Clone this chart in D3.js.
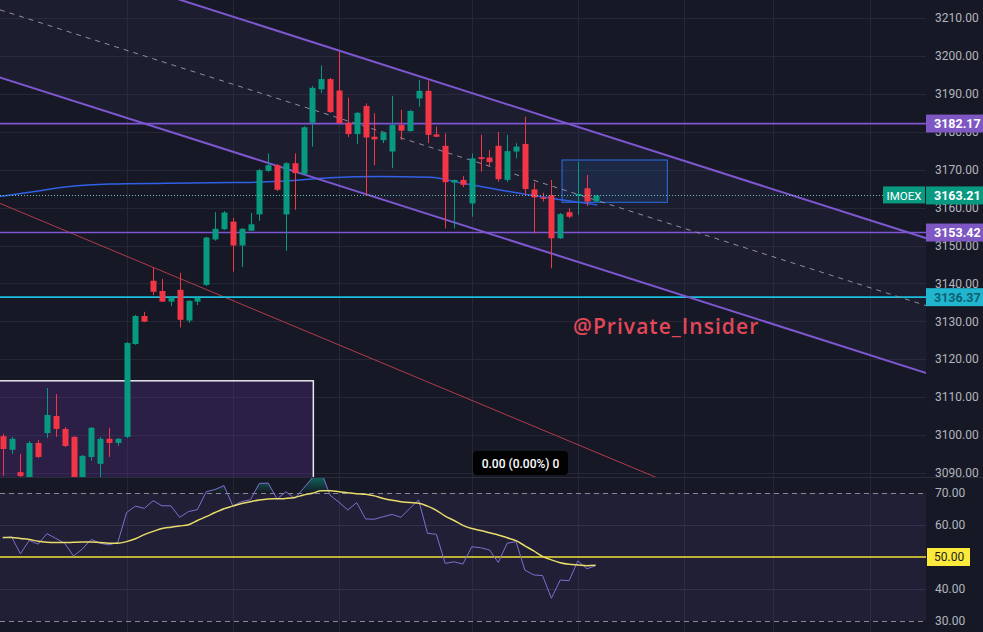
<!DOCTYPE html>
<html><head><meta charset="utf-8">
<script src="https://cdn.jsdelivr.net/npm/d3@7"></script>
<style>html,body{margin:0;padding:0;background:#161925;overflow:hidden}svg{display:block}</style>
</head><body><svg id="c" width="983" height="632"></svg>
<script>
// ---------- DATA ----------
const opens = [3099.7,3096.1,3090.2,3086.8,3097.9,3100.5,3105.0,3101.6,3099.5,3085.5,
 3094.2,3092.4,3099.0,3097.9,3099.5,3124.0,3131.4,3140.7,3138.0,3135.2,
 3138.3,3130.2,3135.2,3139.6,3151.6,3154.3,3156.3,3150.0,3153.9,3158.2,
 3169.7,3171.2,3158.2,3171.7,3168.9,3182.4,3191.2,3193.9,3190.9,3182.4,
 3179.4,3186.8,3178.7,3177.8,3174.8,3181.8,3180.2,3188.8,3190.8,3179.3,
 3176.3,3166.6,3167.3,3161.1,3173.3,3173.2,3176.3,3167.3,3174.8,3176.8,
 3164.8,3162.7,3163.3,3151.9,3158.8,3163.1,3165.1,3161.6];
const highs = [3100.3,3099.5,3095.0,3098.4,3098.7,3112.4,3110.8,3102.1,3099.7,3094.7,
 3102.1,3099.5,3101.9,3099.2,3124.5,3131.7,3132.5,3144.3,3141.2,3136.4,
 3142.8,3135.6,3136.4,3152.3,3158.8,3159.1,3157.3,3154.6,3158.6,3170.2,
 3174.3,3171.5,3172.0,3174.3,3181.5,3192.1,3197.5,3194.2,3201.1,3189.0,
 3185.2,3187.5,3184.9,3180.0,3189.5,3185.8,3185.8,3193.7,3193.5,3181.4,
 3179.6,3167.4,3168.3,3174.3,3179.2,3175.2,3179.9,3179.2,3177.0,3184.0,
 3166.6,3163.9,3167.3,3158.6,3159.8,3172.1,3168.6,3163.3];
const lows = [3089.2,3095.0,3088.9,3085.5,3093.9,3099.2,3099.5,3096.8,3084.2,3084.2,
 3093.2,3088.1,3094.2,3097.1,3099.2,3123.8,3129.8,3136.9,3135.1,3134.0,
 3128.4,3129.6,3134.3,3139.3,3151.3,3154.1,3143.1,3144.3,3153.8,3156.5,
 3169.4,3164.4,3148.6,3159.4,3168.6,3176.1,3190.2,3185.0,3182.1,3178.6,
 3176.8,3163.1,3171.2,3177.0,3170.4,3177.8,3180.0,3186.6,3177.0,3178.6,
 3154.5,3154.5,3165.4,3157.6,3169.5,3170.8,3166.8,3166.8,3173.0,3163.3,
 3153.2,3161.6,3144.0,3151.7,3157.2,3158.1,3160.4,3161.5];
const closes = [3096.3,3099.0,3089.2,3097.9,3094.2,3105.3,3101.6,3097.1,3085.5,3094.5,
 3101.9,3099.0,3097.9,3099.0,3124.3,3131.4,3129.9,3137.8,3135.2,3136.3,
 3130.4,3135.4,3136.2,3152.1,3154.4,3158.7,3150.0,3154.4,3155.6,3169.9,
 3171.2,3164.7,3171.7,3169.1,3181.2,3191.6,3193.9,3185.2,3182.3,3179.4,
 3185.0,3178.5,3178.0,3179.8,3181.8,3180.3,3185.5,3190.8,3179.2,3178.7,
 3166.7,3167.3,3166.0,3173.0,3172.8,3172.0,3167.5,3174.9,3176.1,3164.9,
 3162.7,3162.4,3151.9,3158.3,3157.6,3163.6,3161.6,3163.21];

// price moving average (blue), read at a few bar positions
const maIdx = [-0.3,3.4,7.3,12.1,18.6,26.0,29.9,33.6,37.0,42.6,48.3,52.0,55.9,59.6,63.3,67.2];
const maVal = [3162.9,3164.2,3165.5,3166.2,3166.4,3166.6,3166.8,3167.3,3167.9,3168.2,3168.0,3166.4,3164.8,3163.3,3162.0,3160.7];

// RSI and its moving average
const rsi = [56.0,56.3,51.0,55.2,54.0,57.3,55.8,54.3,50.3,52.5,
 55.5,54.3,53.8,54.5,63.9,65.9,65.2,67.6,66.0,66.0,
 62.4,64.2,64.8,70.4,71.1,72.3,66.0,67.3,67.9,73.0,
 73.1,68.1,70.4,68.3,71.5,74.8,76.5,69.3,67.1,64.7,
 67.0,61.9,61.8,62.6,63.3,62.4,65.2,67.8,57.4,57.1,
 48.0,48.5,47.8,53.2,52.9,52.2,48.3,54.3,54.8,45.9,
 44.4,44.2,37.1,42.8,42.6,48.8,46.3,47.3];
const rsiMa = [56.1,56.1,55.8,55.5,54.9,54.6,54.5,54.5,54.6,54.7,
 54.7,54.5,54.3,54.3,54.8,55.7,57.0,58.0,58.9,59.3,
 59.7,60.1,61.4,62.6,63.9,65.1,65.9,66.7,67.3,67.8,
 68.1,68.2,68.3,68.6,69.4,69.9,70.7,70.7,70.4,70.1,
 69.8,69.6,69.1,68.3,67.7,67.3,67.0,66.8,65.9,64.6,
 62.8,61.4,59.9,58.9,58.3,57.6,56.9,56.0,55.1,53.5,
 51.9,50.2,49.1,48.2,47.7,47.5,47.3,47.4];

const priceTicks = [3090,3100,3110,3120,3130,3140,3150,3160,3170,3180,3190,3200,3210];
const rsiTicks = [30,40,50,60,70];
const timeGridIdx = [14,26,38,53,65,77,87,98];

const levelValues = [3182.17, 3153.42, 3136.37];
const symbol = "IMOEX";
const rsiMid = 50;

// drawings (bar index, price)
const channelUpper = [[72.0,3176.07],[104.4,3151.9]];
const channelLower = [[72.0,3140.45],[104.4,3116.3]];
const trendRed = [[-0.3,3161.1],[73.14,3089.5]];
const whiteBox = [[-5,3114.3],[35.1,3040]];
const blueBox = [[63.2,3172.56],[75.1,3161.4]];
const watermark = "@Private_Insider";
const infoText = "0.00 (0.00%) 0";

// ---------- LAYOUT ----------
const plotR = 926, mainBottom = 477, rsiTop = 478, H = 632;
const x = d3.scaleLinear().domain([0,67]).range([2.7,595.65]);
const y = d3.scaleLinear().domain([3100,3200]).range([435,56]);
const yR = d3.scaleLinear().domain([30,70]).range([621,493]);

const svg = d3.select("#c");
const font = "Roboto, 'Liberation Sans', sans-serif";
svg.append("rect").attr("width",983).attr("height",H).attr("fill","#161925");

const defs = svg.append("defs");
defs.append("clipPath").attr("id","mainClip").append("rect").attr("x",0).attr("y",0).attr("width",plotR).attr("height",mainBottom);
defs.append("clipPath").attr("id","rsiClip").append("rect").attr("x",0).attr("y",rsiTop).attr("width",plotR).attr("height",H-rsiTop);
defs.append("clipPath").attr("id","obClip").append("rect").attr("x",0).attr("y",rsiTop).attr("width",plotR).attr("height",yR(70)-rsiTop);
defs.append("clipPath").attr("id","axisClip").append("rect").attr("x",plotR).attr("y",0).attr("width",983-plotR).attr("height",mainBottom);
const grad = defs.append("linearGradient").attr("id","obGrad").attr("gradientUnits","userSpaceOnUse")
  .attr("x1",0).attr("x2",0).attr("y1",rsiTop).attr("y2",yR(70));
grad.append("stop").attr("offset","0%").attr("stop-color","rgb(8,153,129)").attr("stop-opacity",0.55);
grad.append("stop").attr("offset","100%").attr("stop-color","rgb(8,153,129)").attr("stop-opacity",0.0);

// grid
const grid = svg.append("g");
grid.selectAll("line.h").data(priceTicks).join("line")
  .attr("x1",0).attr("x2",plotR).attr("y1",d=>Math.round(y(d))+0.5).attr("y2",d=>Math.round(y(d))+0.5)
  .attr("stroke","#232736").attr("stroke-width",1);
grid.selectAll("line.r").data([60,40]).join("line")
  .attr("x1",0).attr("x2",plotR).attr("y1",d=>Math.round(yR(d))+0.5).attr("y2",d=>Math.round(yR(d))+0.5)
  .attr("stroke","#2a2b42").attr("stroke-width",1);
grid.selectAll("line.v").data(timeGridIdx).join("line")
  .attr("x1",d=>Math.round(x(d))+0.5).attr("x2",d=>Math.round(x(d))+0.5).attr("y1",0).attr("y2",H)
  .attr("stroke","#232736").attr("stroke-width",1);

// ---------- MAIN PANE ----------
const main = svg.append("g").attr("clip-path","url(#mainClip)");
function lineAt(pts, i){ const [a,b]=pts; return a[1]+(b[1]-a[1])*(i-a[0])/(b[0]-a[0]); }
const extIdx = [-10, 120];

// channel fill
const chPoly = [[extIdx[0],lineAt(channelUpper,extIdx[0])],[extIdx[1],lineAt(channelUpper,extIdx[1])],
                [extIdx[1],lineAt(channelLower,extIdx[1])],[extIdx[0],lineAt(channelLower,extIdx[0])]];
main.append("path").attr("d", d3.line()(chPoly.map(p=>[x(p[0]),y(p[1])]))+"Z")
  .attr("fill","rgba(126,87,194,0.07)");

// white box
main.append("rect").attr("x",x(whiteBox[0][0])).attr("y",y(whiteBox[0][1]))
  .attr("width",x(whiteBox[1][0])-x(whiteBox[0][0])).attr("height",y(whiteBox[1][1])-y(whiteBox[0][1]))
  .attr("fill","rgba(120,55,190,0.22)").attr("stroke","#e8e8ee").attr("stroke-width",1.5);

// blue box
main.append("rect").attr("x",x(blueBox[0][0])).attr("y",y(blueBox[0][1]))
  .attr("width",x(blueBox[1][0])-x(blueBox[0][0])).attr("height",y(blueBox[1][1])-y(blueBox[0][1]))
  .attr("fill","rgba(33,150,243,0.10)").attr("stroke","#2f6ee8").attr("stroke-width",1);

// red trend line
main.append("line").attr("x1",x(extIdx[0])).attr("y1",y(lineAt(trendRed,extIdx[0])))
  .attr("x2",x(extIdx[1])).attr("y2",y(lineAt(trendRed,extIdx[1])))
  .attr("stroke","#b23a4c").attr("stroke-width",1);

// horizontal levels
const levelStroke = ["#7f55d4","#7f55d4","#18c0de"];
main.selectAll("line.lvl").data(levelValues).join("line")
  .attr("x1",0).attr("x2",plotR).attr("y1",d=>y(d)).attr("y2",d=>y(d))
  .attr("stroke",(d,i)=>levelStroke[i]).attr("stroke-width",1.6);

// blue MA
main.append("path").datum(maIdx.map((d,i)=>[d,maVal[i]]))
  .attr("d", d3.line().x(d=>x(d[0])).y(d=>y(d[1])).curve(d3.curveMonotoneX))
  .attr("fill","none").attr("stroke","#3060e6").attr("stroke-width",1.5);

// channel lines
[channelUpper, channelLower].forEach(ch=>{
  main.append("line").attr("x1",x(extIdx[0])).attr("y1",y(lineAt(ch,extIdx[0])))
    .attr("x2",x(extIdx[1])).attr("y2",y(lineAt(ch,extIdx[1])))
    .attr("stroke","#7e57d0").attr("stroke-width",2);
});
// mid dashed
main.append("line").attr("x1",x(extIdx[0])).attr("y1",y((lineAt(channelUpper,extIdx[0])+lineAt(channelLower,extIdx[0]))/2))
  .attr("x2",x(extIdx[1])).attr("y2",y((lineAt(channelUpper,extIdx[1])+lineAt(channelLower,extIdx[1]))/2))
  .attr("stroke","#8e8e9c").attr("stroke-width",1).attr("stroke-dasharray","5,5");

// candles
const bars = opens.map((o,i)=>({i,o,h:highs[i],l:lows[i],c:closes[i]}));
const up = "#089981", dn = "#f23645";
const cg = main.append("g");
cg.selectAll("line").data(bars).join("line")
  .attr("x1",d=>Math.round(x(d.i))+0.5).attr("x2",d=>Math.round(x(d.i))+0.5)
  .attr("y1",d=>y(d.h)).attr("y2",d=>y(d.l))
  .attr("stroke",d=>d.c>=d.o?up:dn).attr("stroke-width",1);
cg.selectAll("rect").data(bars).join("rect")
  .attr("x",d=>Math.round(x(d.i))-2.5).attr("width",6)
  .attr("y",d=>y(Math.max(d.o,d.c)))
  .attr("height",d=>Math.max(1.5, Math.abs(y(d.o)-y(d.c))))
  .attr("fill",d=>d.c>=d.o?up:dn);

// last price dotted line
const last = closes[closes.length-1];
main.append("line").attr("x1",0).attr("x2",883).attr("y1",Math.round(y(last))+0.5).attr("y2",Math.round(y(last))+0.5)
  .attr("stroke","#6cc4b4").attr("stroke-width",1).attr("stroke-dasharray","1,2");

// watermark
main.append("text").attr("x",573).attr("y",334).text(watermark)
  .attr("font-family","'Open Sans', Roboto, sans-serif").attr("font-weight",600).attr("font-size",21)
  .attr("letter-spacing",1.05).attr("fill","#e2475a");

// info box
main.append("rect").attr("x",473).attr("y",451).attr("width",95).attr("height",24).attr("rx",4)
  .attr("fill","#020203");
main.append("text").attr("x",520.5).attr("y",467.5).attr("text-anchor","middle").text(infoText)
  .attr("font-family",font).attr("font-size",12).attr("font-weight",500).attr("fill","#ffffff");

// ---------- RSI PANE ----------
const rg = svg.append("g").attr("clip-path","url(#rsiClip)");
rg.append("rect").attr("x",0).attr("width",plotR).attr("y",yR(70)).attr("height",yR(30)-yR(70))
  .attr("fill","rgba(126,87,194,0.10)");
[70,30].forEach(v=>{
  rg.append("line").attr("x1",0).attr("x2",plotR).attr("y1",Math.round(yR(v))+0.5).attr("y2",Math.round(yR(v))+0.5)
    .attr("stroke","#868993").attr("stroke-width",1).attr("stroke-dasharray","5,4");
});
rg.append("line").attr("x1",0).attr("x2",plotR).attr("y1",yR(rsiMid)).attr("y2",yR(rsiMid))
  .attr("stroke","#f2e236").attr("stroke-width",1.6);
// overbought fill
rg.append("path").datum(rsi).attr("clip-path","url(#obClip)")
  .attr("d", d3.area().x((d,i)=>x(i)).y0(yR(70)).y1(d=>yR(d)))
  .attr("fill","url(#obGrad)");
rg.append("path").datum(rsi)
  .attr("d", d3.line().x((d,i)=>x(i)).y(d=>yR(d)))
  .attr("fill","none").attr("stroke","#7e6fd0").attr("stroke-width",1);
rg.append("path").datum(rsiMa)
  .attr("d", d3.line().x((d,i)=>x(i)).y(d=>yR(d)).curve(d3.curveMonotoneX))
  .attr("fill","none").attr("stroke","#e8dc6a").attr("stroke-width",1.5);

// ---------- AXES ----------
const ax = svg.append("g").attr("clip-path","url(#axisClip)");
ax.selectAll("text").data(priceTicks).join("text")
  .attr("x",935).attr("y",d=>y(d)).attr("dy","0.35em").text(d3.format(".2f"))
  .attr("font-family",font).attr("font-size",12).attr("fill","#b2b5be");
svg.append("g").selectAll("text").data(rsiTicks).join("text")
  .attr("x",935).attr("y",d=>yR(d)).attr("dy","0.35em").text(d3.format(".2f"))
  .attr("font-family",font).attr("font-size",12).attr("fill","#b2b5be");

// pane separator
svg.append("line").attr("x1",0).attr("x2",983).attr("y1",mainBottom+0.5).attr("y2",mainBottom+0.5)
  .attr("stroke","#2a2e39").attr("stroke-width",1);

// level labels
const levelBg = ["#7e57c2","#7e57c2","#22b5cf"];
const levelFg = ["#ffffff","#ffffff","#0d5f72"];
levelValues.forEach((v,i)=>{
  const yy = y(v);
  svg.append("rect").attr("x",926).attr("y",yy-9).attr("width",57).attr("height",18).attr("fill",levelBg[i]);
  svg.append("text").attr("x",934).attr("y",yy).attr("dy","0.36em").text(d3.format(".2f")(v))
    .attr("font-family",font).attr("font-size",12.5).attr("font-weight",700).attr("fill",levelFg[i]);
});
// last price label
const ly = y(last);
svg.append("rect").attr("x",883).attr("y",ly-9).attr("width",42).attr("height",17).attr("fill","#089981");
svg.append("text").attr("x",904).attr("y",ly).attr("dy","0.36em").attr("text-anchor","middle").text(symbol)
  .attr("font-family",font).attr("font-size",11.5).attr("fill","#ffffff");
svg.append("rect").attr("x",926).attr("y",ly-9).attr("width",57).attr("height",18).attr("fill","#089981");
svg.append("text").attr("x",934).attr("y",ly).attr("dy","0.36em").text(d3.format(".2f")(last))
  .attr("font-family",font).attr("font-size",12.5).attr("font-weight",700).attr("fill","#ffffff");
// RSI 50 label
const ry = yR(rsiMid);
svg.append("rect").attr("x",927).attr("y",ry-9).attr("width",43).attr("height",18).attr("fill","#fbe93c");
svg.append("text").attr("x",934).attr("y",ry).attr("dy","0.36em").text(d3.format(".2f")(rsiMid))
  .attr("font-family",font).attr("font-size",12).attr("fill","#1e1e1e");
</script>
</body></html>
